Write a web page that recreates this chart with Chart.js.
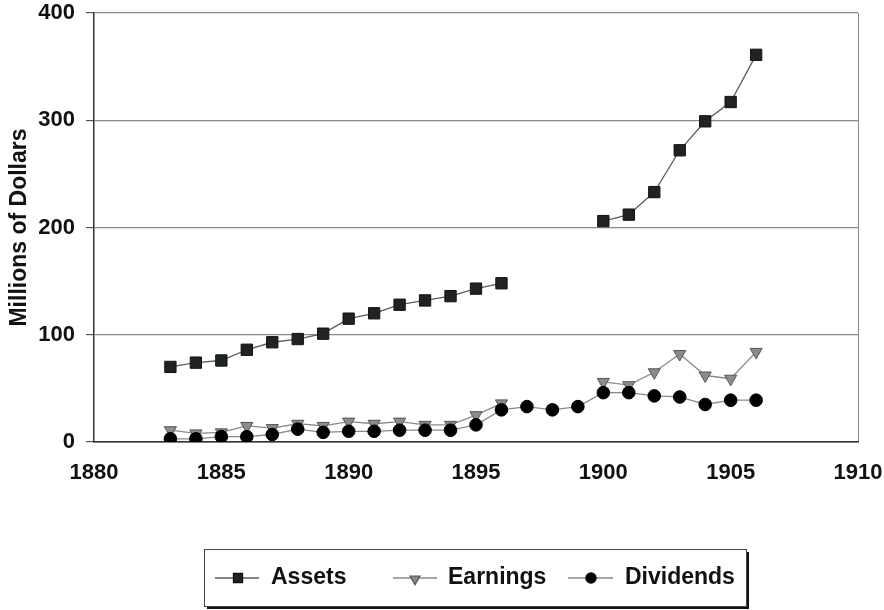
<!DOCTYPE html>
<html>
<head>
<meta charset="utf-8">
<title>Assets, Earnings and Dividends</title>
<script src="https://cdn.jsdelivr.net/npm/chart.js@4.4.1/dist/chart.umd.min.js"></script>
<style>
  html, body { margin: 0; padding: 0; background: #fff; }
  #wrap { width: 884px; height: 610px; }
</style>
</head>
<body>
<div id="wrap"><canvas id="chart" width="884" height="610"></canvas></div>
<script>
// --- data (millions of dollars) ---
const years = [1883, 1884, 1885, 1886, 1887, 1888, 1889, 1890, 1891, 1892, 1893, 1894,
               1895, 1896, 1897, 1898, 1899, 1900, 1901, 1902, 1903, 1904, 1905, 1906];
const assets    = [70, 74, 76, 86, 93, 96, 101, 115, 120, 128, 132, 136,
                   143, 148, null, null, null, 206, 212, 233, 272, 299, 317, 361];
const earnings  = [11, 8, 9, 15, 13, 17, 15, 19, 17, 19, 16, 16,
                   25, 36, null, null, null, 56, 53, 65, 82, 62, 59, 84];
const dividends = [3, 3, 5, 5, 7, 12, 9, 10, 10, 11, 11, 11,
                   16, 30, 33, 30, 33, 46, 46, 43, 42, 35, 39, 39];
const seriesNames = ['Assets', 'Earnings', 'Dividends'];
const yTicks = [0, 100, 200, 300, 400];
const xTicks = [1880, 1885, 1890, 1895, 1900, 1905, 1910];

const FONT = '"Liberation Sans", Arial, Helvetica, sans-serif';

function toPoints(vals) {
    return years.map((yr, i) => ({ x: yr, y: vals[i] }));
}

// legend drawn as a framed box with line + marker samples
const legendBox = {
    id: 'legendBox',
    afterDraw(chart) {
        const ctx = chart.ctx;
        const bx = 204, by = 549, bw = 542, bh = 57;
        ctx.save();
        ctx.fillStyle = '#111';
        ctx.fillRect(bx + 3, by + 3, bw, bh);
        ctx.fillStyle = '#fff';
        ctx.fillRect(bx, by, bw, bh);
        ctx.strokeStyle = '#444';
        ctx.lineWidth = 1;
        ctx.strokeRect(bx + 0.5, by + 0.5, bw, bh);

        const cy = 578;
        const slots = [
            { x1: 215, x2: 259, mx: 238, tx: 271 },
            { x1: 393, x2: 437, mx: 415, tx: 448 },
            { x1: 568, x2: 613, mx: 591, tx: 625 }
        ];
        chart.data.datasets.forEach((ds, i) => {
            const s = slots[i];
            ctx.strokeStyle = ds.borderColor;
            ctx.lineWidth = 1.3;
            ctx.beginPath();
            ctx.moveTo(s.x1, cy);
            ctx.lineTo(s.x2, cy);
            ctx.stroke();
            ctx.fillStyle = ds.pointBackgroundColor;
            ctx.strokeStyle = ds.pointBorderColor;
            Chart.helpers.drawPoint(ctx, {
                pointStyle: ds.pointStyle,
                rotation: ds.pointRotation || 0,
                radius: ds.pointRadius * 0.8,
                borderWidth: 1
            }, s.mx, i === 1 ? cy + 1 : cy);
            ctx.fillStyle = '#111';
            ctx.font = 'bold 23px ' + FONT;
            ctx.textBaseline = 'middle';
            ctx.textAlign = 'left';
            ctx.fillText(ds.label, s.tx, cy);
        });
        ctx.restore();
    }
};

const ctx = document.getElementById('chart').getContext('2d');
const chart = new Chart(ctx, {
    type: 'line',
    data: {
        datasets: [
            {
                label: seriesNames[0],
                data: toPoints(assets),
                borderColor: '#5c5c5c', borderWidth: 1.3,
                pointStyle: 'rect', pointRadius: 8,
                pointBackgroundColor: '#1f241f', pointBorderColor: '#111', pointBorderWidth: 1,
                spanGaps: false, order: 2
            },
            {
                label: seriesNames[1],
                data: toPoints(earnings),
                borderColor: '#8a8a8a', borderWidth: 1.3,
                pointStyle: 'triangle', pointRotation: 180, pointRadius: 7,
                pointBackgroundColor: '#8c8c8c', pointBorderColor: '#555', pointBorderWidth: 1,
                spanGaps: false, order: 1
            },
            {
                label: seriesNames[2],
                data: toPoints(dividends),
                borderColor: '#8a8a8a', borderWidth: 1.3,
                pointStyle: 'circle', pointRadius: 6.3,
                pointBackgroundColor: '#000', pointBorderColor: '#000', pointBorderWidth: 1,
                spanGaps: false, order: 0
            }
        ]
    },
    options: {
        responsive: false, animation: false, devicePixelRatio: 1,
        layout: { padding: { top: 13, right: 26, bottom: 128, left: 0 } },
        scales: {
            x: {
                type: 'linear', min: xTicks[0], max: xTicks[xTicks.length - 1],
                afterBuildTicks: (scale) => { scale.ticks = xTicks.map(v => ({ value: v })); },
                afterFit: (scale) => {
                    scale.height = 40;
                    scale.paddingLeft = 0;
                    scale.paddingRight = 0;
                },
                ticks: {
                    color: '#111', padding: 18,
                    font: { family: FONT, size: 22, weight: 'bold' },
                    callback: (v) => String(v)
                },
                grid: {
                    drawTicks: false,
                    color: (c) => (c.tick && c.tick.value === 1910) ? '#8a8a8a' : 'rgba(0,0,0,0)'
                },
                border: { color: '#333', width: 1.5 }
            },
            y: {
                min: yTicks[0], max: yTicks[yTicks.length - 1],
                afterBuildTicks: (scale) => { scale.ticks = yTicks.map(v => ({ value: v })); },
                afterFit: (scale) => {
                    scale.width = 94;
                    scale.paddingTop = 0;
                    scale.paddingBottom = 0;
                },
                ticks: {
                    color: '#111', padding: 11,
                    font: { family: FONT, size: 22, weight: 'bold' },
                    callback: (v) => String(v)
                },
                grid: {
                    color: (c) => (c.tick && c.tick.value === 0) ? '#333' : '#8a8a8a',
                    tickColor: '#555', tickLength: 8, lineWidth: 1.2
                },
                border: { color: '#333', width: 1.5 },
                title: {
                    display: true, text: 'Millions of Dollars', color: '#111',
                    font: { family: FONT, size: 23, weight: 'bold' },
                    padding: { top: 6, bottom: 0 }
                }
            }
        },
        plugins: {
            legend: { display: false },
            tooltip: { enabled: false }
        }
    },
    plugins: [legendBox]
});
</script>
</body>
</html>
